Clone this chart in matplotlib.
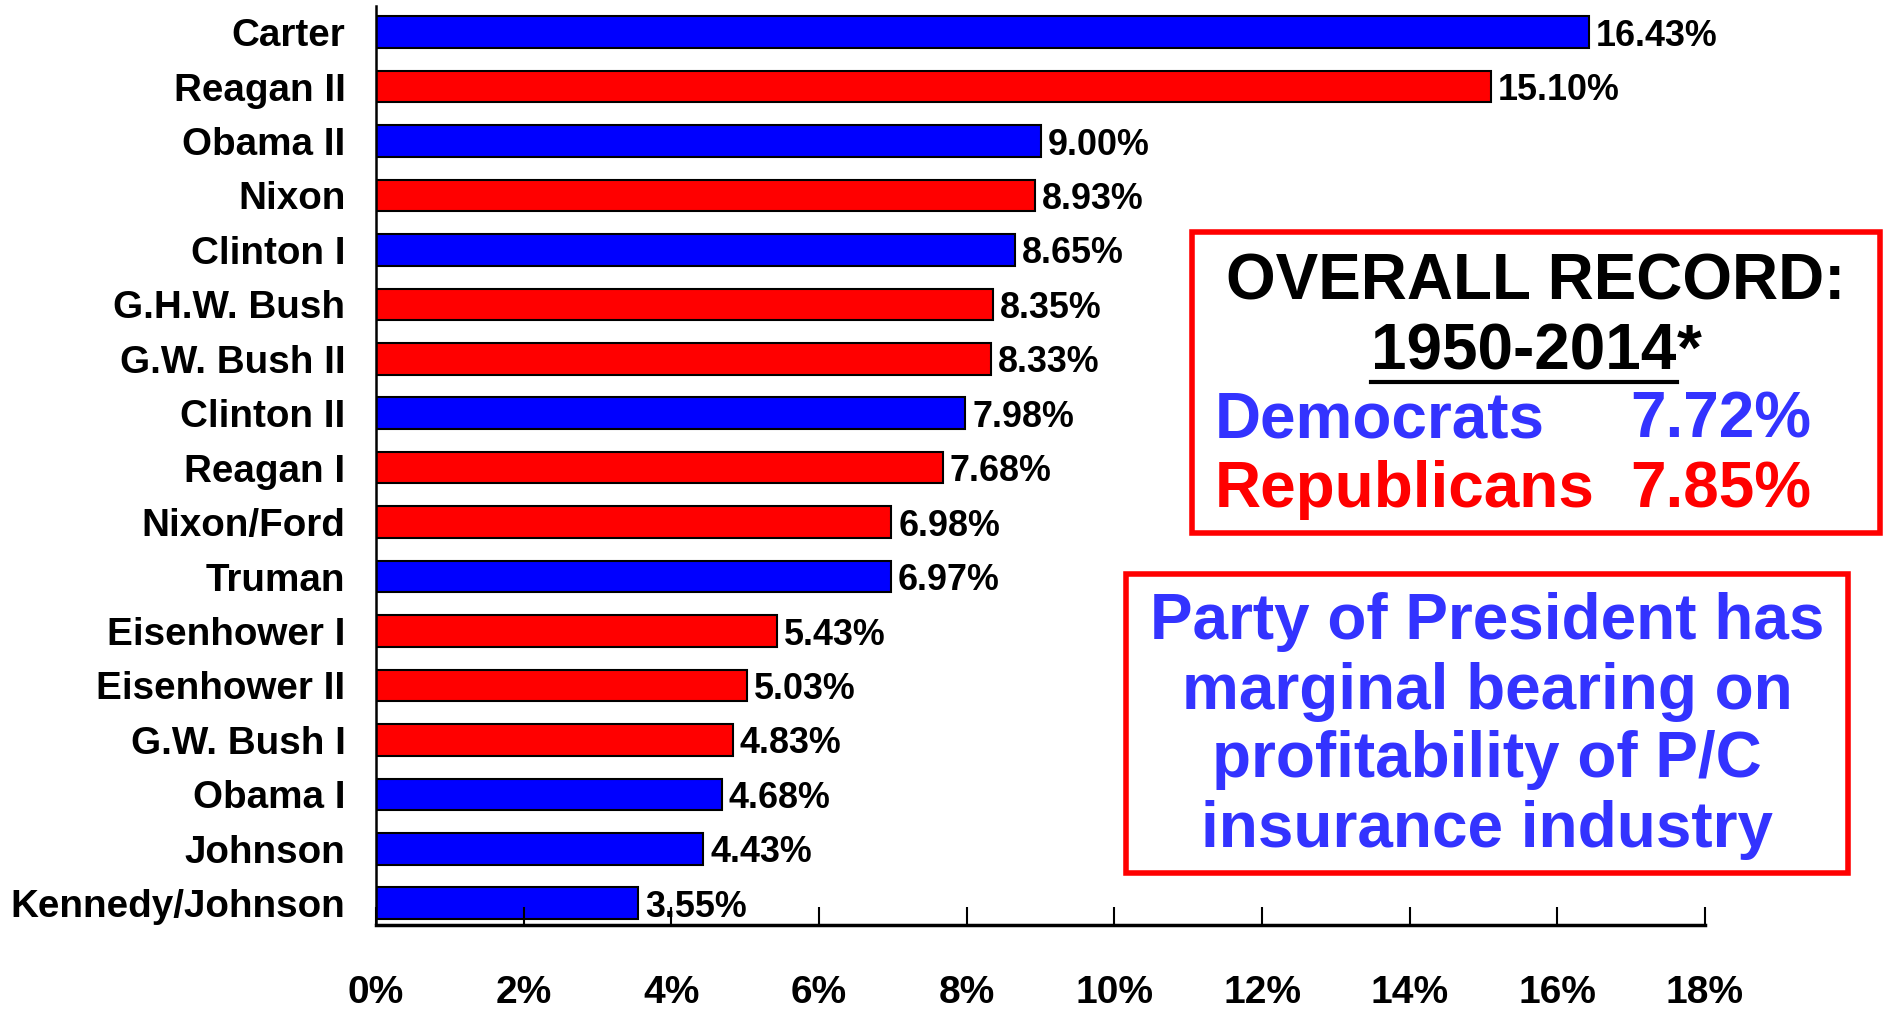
import matplotlib
matplotlib.use("Agg")
import matplotlib.pyplot as plt
from matplotlib.patches import Rectangle
from matplotlib.lines import Line2D
from matplotlib.ticker import FuncFormatter

plt.rcParams['font.family'] = ['Liberation Sans', 'DejaVu Sans']
plt.rcParams['font.weight'] = 'bold'

# ---- data (bottom to top) ----
presidents = ["Kennedy/Johnson", "Johnson", "Obama I", "G.W. Bush I", "Eisenhower II",
              "Eisenhower I", "Truman", "Nixon/Ford", "Reagan I", "Clinton II",
              "G.W. Bush II", "G.H.W. Bush", "Clinton I", "Nixon", "Obama II",
              "Reagan II", "Carter"]
values = [3.55, 4.43, 4.68, 4.83, 5.03, 5.43, 6.97, 6.98, 7.68, 7.98,
          8.33, 8.35, 8.65, 8.93, 9.00, 15.10, 16.43]
party = ["D", "D", "D", "R", "R", "R", "D", "R", "R", "D",
         "R", "R", "D", "R", "D", "R", "D"]
xticks = [0, 2, 4, 6, 8, 10, 12, 14, 16, 18]
dem_avg = 7.72
rep_avg = 7.85

party_color = {"D": "#0000FF", "R": "#FF0000"}
TXT_BLUE = "#3333FF"

W, H = 1884, 1009
fig = plt.figure(figsize=(W / 100, H / 100), dpi=100)
ax = fig.add_axes([376 / W, 1 - 925 / H, (1705 - 376) / W, (925 - 6) / H])

ypos = list(range(len(presidents)))
ax.barh(ypos, values, height=0.58, color=[party_color[p] for p in party],
        edgecolor="black", linewidth=1.5)

for y, v in zip(ypos, values):
    ax.annotate(f"{v:.2f}%", (v, y), xytext=(5, 0), textcoords="offset points",
                ha="left", va="center_baseline", fontsize=25.8, fontweight="bold",
                color="black")

ax.set_xlim(0, 18)
ax.set_ylim(-0.4, 16.48)
ax.set_xticks(xticks)
ax.xaxis.set_major_formatter(FuncFormatter(lambda x, p: f"{x:.0f}%"))
ax.set_yticks(ypos)
ax.set_yticklabels(presidents)
ax.tick_params(axis="y", length=0, pad=22, labelsize=27.8)
ax.tick_params(axis="x", direction="in", length=13, width=1.5, pad=36, labelsize=28)
for lbl in ax.get_xticklabels() + ax.get_yticklabels():
    lbl.set_fontweight("bold")
ax.spines["top"].set_visible(False)
ax.spines["right"].set_visible(False)
ax.spines["left"].set_linewidth(1.8)
ax.spines["bottom"].set_linewidth(2.5)


def fx(x):
    return x / W


def fy(y):
    return 1 - y / H


FS1 = 46
# ---- box 1: overall record ----
fig.add_artist(Rectangle((fx(1192), fy(533)), (1880 - 1192) / W, (533 - 232) / H,
                         transform=fig.transFigure, fill=False, edgecolor="#FF0000",
                         linewidth=4))
fig.text(fx(1536), fy(300), "OVERALL RECORD:", ha="center", va="baseline",
         fontsize=FS1, fontweight="bold", color="black")
fig.text(fx(1524), fy(370), "1950-2014", ha="center", va="baseline",
         fontsize=FS1, fontweight="bold", color="black")
fig.text(fx(1677), fy(370), "*", ha="left", va="baseline",
         fontsize=FS1, fontweight="bold", color="black")
fig.add_artist(Line2D([fx(1371), fx(1677)], [fy(382), fy(382)],
                      transform=fig.transFigure, color="black", linewidth=3))
fig.text(fx(1215), fy(437), "Democrats", ha="left", va="baseline",
         fontsize=FS1, fontweight="bold", color=TXT_BLUE)
fig.text(fx(1630), fy(437), f"{dem_avg:.2f}%", ha="left", va="baseline",
         fontsize=FS1, fontweight="bold", color=TXT_BLUE)
fig.text(fx(1215), fy(507), "Republicans", ha="left", va="baseline",
         fontsize=FS1, fontweight="bold", color="#FF0000")
fig.text(fx(1630), fy(507), f"{rep_avg:.2f}%", ha="left", va="baseline",
         fontsize=FS1, fontweight="bold", color="#FF0000")

# ---- box 2: message ----
fig.add_artist(Rectangle((fx(1126), fy(873)), (1848 - 1126) / W, (873 - 574) / H,
                         transform=fig.transFigure, fill=False, edgecolor="#FF0000",
                         linewidth=4))
msg_lines = ["Party of President has", "marginal bearing on",
             "profitability of P/C", "insurance industry"]
for line, base in zip(msg_lines, [639, 709, 777, 847]):
    fig.text(fx(1487), fy(base), line, ha="center", va="baseline",
             fontsize=46, fontweight="bold", color=TXT_BLUE)

fig.savefig("out.png", dpi=100, facecolor="white")
